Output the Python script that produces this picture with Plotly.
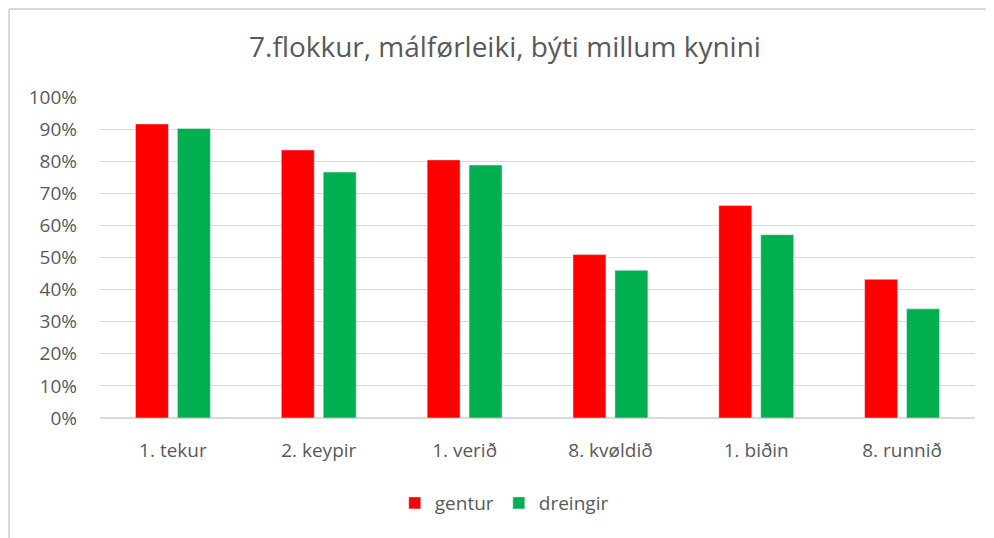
import plotly.graph_objects as go

categories = ["1. tekur", "2. keypir", "1. verið", "8. kvøldið", "1. biðin", "8. runnið"]
gentur = [0.916, 0.835, 0.804, 0.509, 0.662, 0.432]
dreingir = [0.902, 0.766, 0.788, 0.460, 0.571, 0.340]

FONT = "'Open Sans', sans-serif"
GREY = "#595959"

fig = go.Figure()
fig.add_trace(go.Bar(name="gentur", x=categories, y=gentur, marker_color="#FF0000"))
fig.add_trace(go.Bar(name="dreingir", x=categories, y=dreingir, marker_color="#00B050"))

fig.update_layout(
    width=994, height=538,
    paper_bgcolor="white", plot_bgcolor="white",
    margin=dict(l=92, r=27, t=89, b=128, autoexpand=False),
    barmode="group", bargap=0.425, bargroupgap=0.214,
    font=dict(family=FONT, color=GREY, size=16),
    title=dict(text="7.flokkur, málførleiki, býti millum kynini", x=0.5, xanchor="center",
               y=1 - 39 / 538, yanchor="middle", font=dict(size=28, color=GREY, family=FONT)),
    legend=dict(orientation="h", x=0.462, xanchor="center", y=-0.265, yanchor="middle",
                font=dict(size=19, color=GREY), traceorder="normal", itemwidth=30),
    showlegend=True,
)
fig.update_yaxes(range=[0, 1.0], dtick=0.1, tickformat=".0%", showgrid=True, automargin=False,
                 gridcolor="#D9D9D9", gridwidth=1, zeroline=True, zerolinecolor="#D9D9D9",
                 ticks="", ticklen=0, tickfont=dict(size=19, color=GREY), ticklabelstandoff=22)
fig.update_xaxes(showline=False, ticks="", automargin=False, tickfont=dict(size=19, color=GREY),
                 ticklabelstandoff=19)
# chart border (top and left edges)
fig.add_shape(type="line", xref="paper", yref="paper", x0=-91 / 875, x1=1 + 27 / 875,
              y0=1 + 88 / 321, y1=1 + 88 / 321, line=dict(color="#D9D9D9", width=2))
fig.add_shape(type="line", xref="paper", yref="paper", x0=-91 / 875, x1=-91 / 875,
              y0=-128 / 321, y1=1 + 88 / 321, line=dict(color="#D9D9D9", width=2))

fig.write_html("out.html")
